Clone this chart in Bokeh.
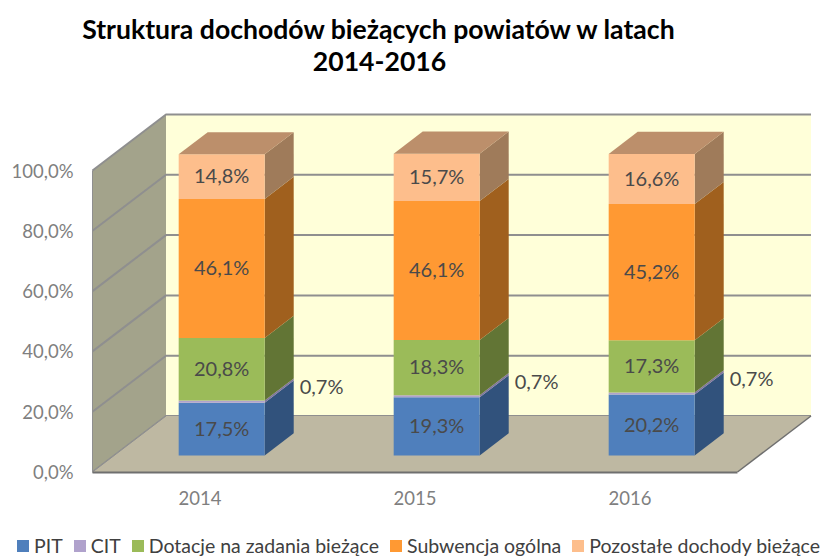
from bokeh.plotting import figure
from bokeh.models import FixedTicker, Label
from bokeh.core.properties import value
from bokeh.embed import file_html
from bokeh.resources import INLINE

years = ["2014", "2015", "2016"]
series_names = ["PIT", "CIT", "Dotacje na zadania bieżące", "Subwencja ogólna", "Pozostałe dochody bieżące"]
pit = [17.5, 19.3, 20.2]
cit = [0.7, 0.7, 0.7]
dotacje = [20.8, 18.3, 17.3]
subwencja = [46.1, 46.1, 45.2]
pozostale = [14.8, 15.7, 16.6]
y_ticks = [0, 20, 40, 60, 80, 100]
y_tick_labels = ["0,0%", "20,0%", "40,0%", "60,0%", "80,0%", "100,0%"]
title_lines = ["Struktura dochodów bieżących powiatów w latach", "2014-2016"]

front_colors = ["#4F7FBC", "#B0A2CC", "#9BBB59", "#FF9933", "#FDBE8C"]
side_colors = ["#31527C", "#7E74A0", "#627535", "#A0601E", "#9F7B5A"]
top_color = "#BC8F6B"
LABEL_FONT = "Lato"

W, H = 825, 557
ORIGIN_X, ORIGIN_Y = 92.0, 471.5   # where x=0, y=0 lies on the page
PX_X, PX_Y = 215.0, 3.015          # pixels per x unit / per percentage point
DX, DY = 73.5 / PX_X, 56.0 / PX_Y  # full depth of the 3D box in data units
NEAR, FAR = 0.295, 0.69            # bar depth
HALF = 43.0 / PX_X

p = figure(width=W, height=H,
           x_range=(-ORIGIN_X / PX_X, (W - ORIGIN_X) / PX_X),
           y_range=(-(H - ORIGIN_Y) / PX_Y, ORIGIN_Y / PX_Y),
           output_backend="svg", toolbar_location=None,
           min_border_left=0, min_border_right=0, min_border_top=0, min_border_bottom=0)
p.grid.visible = False
p.outline_line_color = None
p.background_fill_color = "white"


def proj(x, v, d):
    return x + d * DX, v + d * DY


# walls
n = len(years)
c = [proj(0, 0, 1), proj(n, 0, 1), proj(n, 100, 1), proj(0, 100, 1)]
p.patch([q[0] for q in c], [q[1] for q in c], fill_color="#FFFFD9", line_color=None)
c_floor = [proj(0, 0, 0), proj(n, 0, 0), proj(n, 0, 1), proj(0, 0, 1)]
c = [proj(0, 0, 0), proj(0, 100, 0), proj(0, 100, 1), proj(0, 0, 1)]
p.patch([q[0] for q in c], [q[1] for q in c], fill_color="#A3A38B", line_color=None)

# gridlines on walls
GRID = "#8F8F8F"
for t in y_ticks:
    a, b, e = proj(0, t, 0), proj(0, t, 1), proj(n, t, 1)
    p.line([a[0], b[0], e[0]], [a[1], b[1], e[1]], line_color=GRID, line_width=2)

p.patch([q[0] for q in c_floor], [q[1] for q in c_floor], fill_color="#BEB8A2", line_color=None)
a, b = proj(n, 0, 0), proj(n, 0, 1)
p.line([a[0], b[0]], [a[1], b[1]], line_color="#6F6F6F", line_width=1.5)
a, b = proj(0, 0, 0), proj(0, 0, 1)
p.line([a[0], b[0]], [a[1], b[1]], line_color="#8F8F8F", line_width=1)

# bars
stacks = [pit, cit, dotacje, subwencja, pozostale]
bottoms = [0.0] * n
lab_x, lab_y, lab_t = [], [], []
out_x, out_y, out_t = [], [], []
for s, vals in enumerate(stacks):
    tops = [b + v for b, v in zip(bottoms, vals)]
    lefts = [i + 0.5 - HALF + NEAR * DX for i in range(n)]
    rights = [i + 0.5 + HALF + NEAR * DX for i in range(n)]
    ys0 = [b + NEAR * DY for b in bottoms]
    ys1 = [t + NEAR * DY for t in tops]
    xs_side = [[r, r + (FAR - NEAR) * DX, r + (FAR - NEAR) * DX, r] for r in rights]
    ys_side = [[y0, y0 + (FAR - NEAR) * DY, y1 + (FAR - NEAR) * DY, y1] for y0, y1 in zip(ys0, ys1)]
    p.patches(xs_side, ys_side, fill_color=side_colors[s], line_color=None)
    p.quad(left=lefts, right=rights, bottom=ys0, top=ys1, fill_color=front_colors[s],
           line_color=None, legend_label=series_names[s])
    if s == len(stacks) - 1:
        xs_top = [[l, r, r + (FAR - NEAR) * DX, l + (FAR - NEAR) * DX] for l, r in zip(lefts, rights)]
        ys_top = [[y, y, y + (FAR - NEAR) * DY, y + (FAR - NEAR) * DY] for y in ys1]
        p.patches(xs_top, ys_top, fill_color=top_color, line_color=None)
    for i in range(n):
        txt = f"{vals[i]:.1f}%".replace(".", ",")
        if series_names[s] == "CIT":
            out_x.append(rights[i] + (FAR - NEAR) * DX + 6 / PX_X)
            out_y.append((ys0[i] + ys1[i]) / 2 + 5.2)
            out_t.append(txt)
        else:
            lab_x.append((lefts[i] + rights[i]) / 2)
            lab_y.append((ys0[i] + ys1[i]) / 2 + 0.4)
            lab_t.append(txt)
    bottoms = tops

p.text(lab_x, lab_y, text=lab_t, text_font=value(LABEL_FONT), text_font_size="20px",
       text_color="#4A4A4A", text_align="center", text_baseline="middle")
p.text(out_x, out_y, text=out_t, text_font=value(LABEL_FONT), text_font_size="20px",
       text_color="#4A4A4A", text_align="left", text_baseline="middle")

# axes: fixed at the data origin, so the frame fills the whole page
ax = p.yaxis[0]
ax.fixed_location = 0
ax.ticker = FixedTicker(ticks=y_ticks)
ax.major_label_overrides = dict(zip(y_ticks, y_tick_labels))
ax.bounds = (0, 100)
ax.axis_line_color = "#8F8F8F"
ax.axis_line_width = 1
ax.major_tick_line_color = None
ax.minor_tick_line_color = None
ax.major_tick_out = 0
ax.major_tick_in = 0
ax.major_label_standoff = 19
ax.major_label_text_font = LABEL_FONT
ax.major_label_text_font_size = "18.5px"
ax.major_label_text_color = "#7F7F7F"

xa = p.xaxis[0]
xa.fixed_location = 0
xpos = [i + 0.5 for i in range(n)]
xa.ticker = FixedTicker(ticks=xpos)
xa.major_label_overrides = dict(zip(xpos, years))
xa.bounds = (0, n)
xa.axis_line_color = "#6F6F6F"
xa.axis_line_width = 2
xa.major_tick_line_color = None
xa.minor_tick_line_color = None
xa.major_tick_out = 0
xa.major_tick_in = 0
xa.major_label_standoff = 19
xa.major_label_text_font = LABEL_FONT
xa.major_label_text_font_size = "18.5px"
xa.major_label_text_color = "#7F7F7F"

# legend
lg = p.legend[0]
lg.orientation = "horizontal"
lg.location = (15, 0)
lg.border_line_color = None
lg.background_fill_alpha = 0
lg.padding = 0
lg.margin = 0
lg.spacing = 9
lg.glyph_width = 15
lg.glyph_height = 15
lg.label_standoff = 4
lg.label_text_font = LABEL_FONT
lg.label_text_font_size = "19.5px"
lg.label_text_color = "#404040"

# title (screen units of a Label count from the frame's lower left corner)
for line, ypx in zip(title_lines, [H - 28, H - 61]):
    p.add_layout(Label(x=379, y=ypx, x_units="screen", y_units="screen", text=line,
                       text_font=LABEL_FONT, text_font_style="bold", text_font_size="26.6px",
                       text_color="black", text_align="center", text_baseline="middle"))

open("out.html", "w").write(file_html(p, INLINE))
